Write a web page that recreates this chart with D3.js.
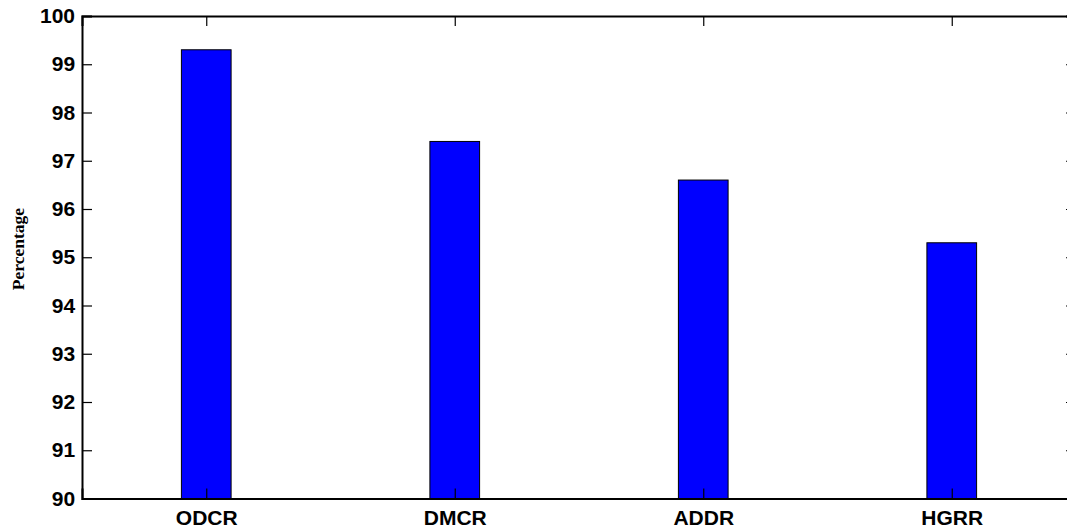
<!DOCTYPE html>
<html>
<head>
<meta charset="utf-8">
<script src="https://cdn.jsdelivr.net/npm/d3@7"></script>
<style>
  html, body { margin: 0; padding: 0; background: #fff; overflow: hidden; }
  svg { display: block; }
</style>
</head>
<body>
<svg id="chart" width="1067" height="531"></svg>
<script>
const categories = ["ODCR", "DMCR", "ADDR", "HGRR"];
const values = [99.3, 97.4, 96.6, 95.3];
const yTicks = [90, 91, 92, 93, 94, 95, 96, 97, 98, 99, 100];
const yLabel = "Percentage";

(function () {
const svg = d3.select("#chart");
const pL = 82, pR = 1076, pT = 16, pB = 498.5;

const x = d3.scaleLinear().domain([0.5, categories.length + 0.5]).range([pL, pR]);
const y = d3.scaleLinear().domain([90, 100]).range([pB, pT]);
const barW = x(1.2) - x(1);

// bars
svg.append("g").selectAll("rect").data(values).join("rect")
  .attr("x", (d, i) => x(i + 1) - barW / 2)
  .attr("y", d => y(d))
  .attr("width", barW)
  .attr("height", d => y(90) - y(d))
  .attr("fill", "#0000ff")
  .attr("stroke", "#000")
  .attr("stroke-width", 1);

const tickLen = 10;
const tickVals = categories.map((c, i) => i + 1);

const yAxisL = d3.axisLeft(y).tickValues(yTicks).tickSize(-tickLen).tickPadding(8).tickFormat(d3.format("d"));
const gL = svg.append("g").attr("transform", `translate(${pL},0)`).call(yAxisL);
const yAxisR = d3.axisRight(y).tickValues(yTicks).tickSize(-tickLen).tickFormat("");
const gR = svg.append("g").attr("transform", `translate(${pR},0)`).call(yAxisR);
const xAxisB = d3.axisBottom(x).tickValues(tickVals).tickSize(-tickLen).tickPadding(12)
  .tickFormat(d => categories[d - 1]);
const gB = svg.append("g").attr("transform", `translate(0,${pB})`).call(xAxisB);
const xAxisT = d3.axisTop(x).tickValues(tickVals).tickSize(-tickLen).tickFormat("");
const gT = svg.append("g").attr("transform", `translate(0,${pT})`).call(xAxisT);

[gL, gR, gB, gT].forEach(g => {
  g.select(".domain").attr("stroke", "#000").attr("stroke-width", 2);
  g.selectAll(".tick line").attr("stroke", "#000").attr("stroke-width", 1.2);
});
[gL, gB].forEach(g => {
  g.selectAll(".tick text")
    .attr("fill", "#000")
    .attr("font-family", "Liberation Sans, Arial, sans-serif")
    .attr("font-weight", "bold")
    .attr("font-size", 21);
});
gL.selectAll(".tick text").attr("dx", "0.05em");
gB.selectAll(".tick text").attr("dy", "0.68em");

svg.append("text")
  .attr("transform", `translate(24,249) rotate(-90)`)
  .attr("text-anchor", "middle")
  .attr("font-family", "Liberation Serif, Times New Roman, serif")
  .attr("font-weight", "bold")
  .attr("font-size", 17.5)
  .attr("fill", "#000")
  .text(yLabel);
})();
</script>
</body>
</html>
